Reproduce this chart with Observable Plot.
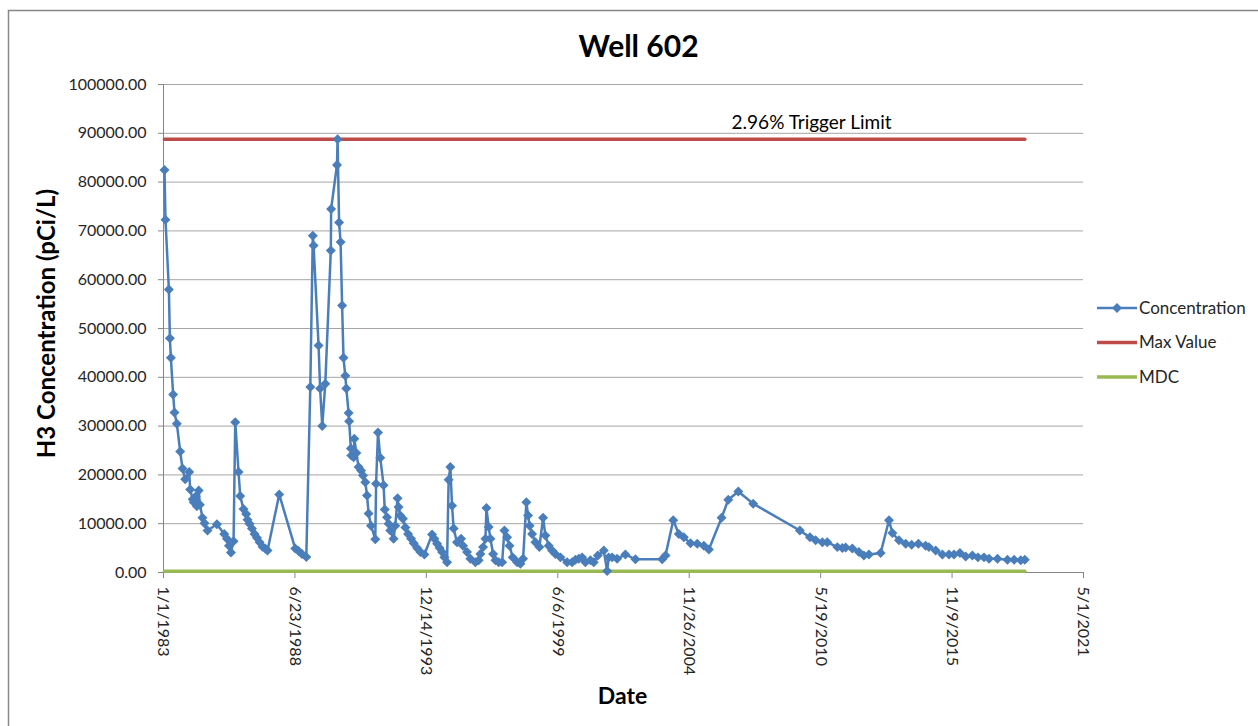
<!DOCTYPE html>
<html><head><meta charset="utf-8">
<script src="https://cdn.jsdelivr.net/npm/d3@7"></script>
<script src="https://cdn.jsdelivr.net/npm/@observablehq/plot@0.6"></script>
<style>
html,body{margin:0;padding:0;background:#fff;overflow:hidden;}
#chart{position:relative;width:1258px;height:726px;}
</style></head><body><div id="chart"></div>
<script>
const sampleDates = ["1983-01-16","1983-01-31","1983-03-24","1983-04-08","1983-04-23","1983-05-28","1983-06-17","1983-07-23","1983-09-12","1983-10-17","1983-11-27","1984-01-27","1984-02-11","1984-03-20","1984-04-05","1984-05-05","1984-05-23","1984-06-20","1984-07-08","1984-08-16","1984-09-16","1984-11-01","1985-03-24","1985-07-13","1985-08-23","1985-09-23","1985-10-23","1985-12-02","1985-12-28","1986-02-16","1986-03-13","1986-05-02","1986-06-12","1986-07-02","1986-08-02","1986-09-08","1986-10-17","1986-11-23","1987-01-02","1987-02-16","1987-03-29","1987-05-03","1987-10-28","1988-06-28","1988-08-17","1988-10-08","1988-12-13","1989-02-12","1989-03-22","1989-04-03","1989-06-18","1989-07-11","1989-08-13","1989-09-28","1989-12-21","1989-12-26","1990-03-25","1990-04-03","1990-04-26","1990-05-19","1990-06-11","1990-07-02","1990-07-30","1990-08-14","1990-09-18","1990-09-26","1990-10-22","1990-10-29","1990-12-03","1990-12-14","1991-01-13","1991-02-17","1991-03-26","1991-04-25","1991-05-30","1991-06-25","1991-07-19","1991-08-25","1991-10-29","1991-11-10","1991-12-09","1992-01-13","1992-03-03","1992-03-21","1992-04-24","1992-05-18","1992-06-13","1992-08-02","1992-08-28","1992-10-02","1992-10-17","1992-11-12","1992-12-23","1993-01-29","1993-03-11","1993-04-26","1993-06-04","1993-07-26","1993-09-14","1993-11-14","1994-03-11","1994-04-15","1994-05-26","1994-07-04","1994-08-10","1994-09-14","1994-10-25","1994-11-18","1994-12-14","1995-01-09","1995-02-02","1995-03-25","1995-05-26","1995-06-25","1995-08-25","1995-10-15","1995-12-30","1996-02-18","1996-03-15","1996-04-25","1996-05-31","1996-06-15","1996-07-20","1996-08-15","1996-09-25","1996-10-30","1996-12-19","1997-02-09","1997-03-16","1997-04-26","1997-06-01","1997-07-20","1997-09-25","1997-11-14","1997-12-25","1998-02-13","1998-03-11","1998-04-04","1998-05-11","1998-06-30","1998-08-30","1998-10-25","1998-11-29","1999-01-19","1999-03-11","1999-04-30","1999-07-16","1999-10-26","2000-01-10","2000-03-01","2000-04-20","2000-06-10","2000-07-30","2000-10-15","2000-12-04","2001-02-04","2001-05-06","2001-06-26","2001-07-20","2001-09-10","2001-11-25","2002-03-31","2002-08-31","2003-10-12","2003-12-01","2004-03-28","2004-06-21","2004-09-05","2004-12-16","2005-03-28","2005-07-06","2005-09-21","2006-04-02","2006-07-13","2006-12-13","2007-07-28","2009-07-07","2009-12-07","2010-03-04","2010-06-14","2010-08-28","2011-01-28","2011-04-14","2011-06-03","2011-09-13","2011-12-22","2012-03-07","2012-05-23","2012-11-17","2013-03-24","2013-05-15","2013-08-23","2013-12-03","2014-03-04","2014-06-14","2014-10-03","2014-11-22","2015-03-05","2015-06-15","2015-09-23","2015-12-08","2016-03-08","2016-06-03","2016-09-13","2016-12-07","2017-03-09","2017-05-25","2017-09-30","2018-03-01","2018-06-10","2018-09-20","2018-11-20"];
const concentration = [82500,72300,58000,48000,44000,36500,32800,30500,24800,21300,19100,20600,17000,15000,14400,15600,13600,16800,13900,11200,10100,8600,9900,7900,6900,5500,4100,6400,30800,20600,15700,13000,12000,10800,10000,9000,7900,7100,6200,5300,4900,4500,16000,4900,4400,3800,3200,38000,69000,67000,46500,37700,30000,38700,66000,74500,83500,88800,71700,67700,54700,44000,40300,37700,32700,31000,25400,24000,23600,27400,24500,21600,20900,19900,18500,15800,12100,9600,6800,18200,28700,23500,17900,12900,11300,10000,8600,6900,9600,15200,13400,11700,11000,9200,7900,6900,6000,5000,4200,3700,7800,6900,5900,5000,4200,3100,2100,19000,21600,13700,9000,6200,6900,5500,4200,2800,2100,2500,3800,5200,6900,13200,9300,6900,3800,2500,2100,2100,8600,7200,5500,3100,2100,1800,2800,14400,11700,9600,7900,6200,5200,11200,7600,5500,4500,3800,3100,2100,2100,2600,2800,3100,2100,2500,2100,3500,4500,300,3100,3100,2800,3700,2700,2700,3500,10700,7900,7200,6000,5900,5500,4700,11200,14900,16600,14100,8600,7200,6600,6200,6200,5200,5000,5100,4900,4200,3500,3700,4000,10700,8100,6600,5900,5700,5900,5500,5200,4500,3700,3700,3700,4000,3300,3500,3100,3100,2800,2800,2600,2600,2500,2600];
const maxValue = 88800;
const mdcValue = 250;
const yTicks = [0,10000,20000,30000,40000,50000,60000,70000,80000,90000,100000];
const xTickDates = ["1983-01-01","1988-06-23","1993-12-14","1999-06-06","2004-11-26","2010-05-19","2015-11-09","2021-05-01"];
const xTickLabels = ["1/1/1983","6/23/1988","12/14/1993","6/6/1999","11/26/2004","5/19/2010","11/9/2015","5/1/2021"];
const seriesNames = ["Concentration","Max Value","MDC"];
const seriesColors = ["#4a7ebb","#be4b48","#98b954"];
const triggerLabel = "2.96% Trigger Limit";
const triggerLabelDate = "2010-01-01";
const chartTitle = "Well 602";
const yTitle = "H3 Concentration (pCi/L)";
const xTitle = "Date";

const parse = d3.utcParse("%Y-%m-%d");
const conc = sampleDates.map((d, i) => ({date: parse(d), value: concentration[i]}));
const first = conc[0].date, last = conc[conc.length - 1].date;
const maxRows = [{date: first, value: maxValue}, {date: last, value: maxValue}];
const mdcRows = [{date: first, value: mdcValue}, {date: last, value: mdcValue}];
const ticks = xTickDates.map((d, i) => ({date: parse(d), label: xTickLabels[i]}));
const font = "Lato, 'Open Sans', sans-serif";
const axisGray = "#868686";
const textCol = "#262626";

const M = {left: 163, right: 175, top: 84, bottom: 154};
const chart = Plot.plot({
  width: 1258, height: 726,
  marginLeft: M.left, marginRight: M.right, marginTop: M.top, marginBottom: M.bottom,
  style: {fontFamily: font, fontSize: "16px", background: "transparent", color: textCol, overflow: "visible"},
  x: {type: "utc", domain: [ticks[0].date, ticks[ticks.length - 1].date]},
  y: {domain: [0, 100000]},
  marks: [
    Plot.gridY(yTicks, {stroke: "#a6a6a6", strokeOpacity: 1, strokeWidth: 1}),
    Plot.axisY(yTicks, {tickFormat: d3.format(".2f"), tickSize: 5, tickPadding: 12, stroke: axisGray, fill: textCol, label: null, fontSize: 16}),
    Plot.ruleX([ticks[0].date], {stroke: axisGray}),
    Plot.ruleY([0], {stroke: axisGray}),
    Plot.axisX(ticks.map(t => t.date), {tickSize: 6, tickFormat: () => "", stroke: axisGray, label: null}),
    Plot.text(ticks, {x: "date", text: "label", frameAnchor: "bottom", rotate: 90, textAnchor: "start", lineAnchor: "middle", dy: 14, fill: textCol, fontSize: 16}),
    Plot.line(maxRows, {x: "date", y: "value", stroke: seriesColors[1], strokeWidth: 3.5}),
    Plot.line(mdcRows, {x: "date", y: "value", stroke: seriesColors[2], strokeWidth: 3.5}),
    Plot.line(conc, {x: "date", y: "value", stroke: seriesColors[0], strokeWidth: 2.5}),
    Plot.dot(conc, {x: "date", y: "value", symbol: "diamond2", r: 4.5, fill: seriesColors[0], stroke: "none"}),
    Plot.text([{date: parse(triggerLabelDate), value: maxValue, label: triggerLabel}], {x: "date", y: "value", text: "label", dy: -16, fontSize: 19, fill: "#000"}),
    Plot.text([chartTitle], {frameAnchor: "top-left", textAnchor: "middle", lineAnchor: "middle", dx: 638 - M.left, dy: 47 - M.top, fontSize: 30, fontWeight: "bold", fill: "#000"}),
    Plot.text([yTitle], {frameAnchor: "top-left", textAnchor: "middle", lineAnchor: "middle", dx: 47 - M.left, dy: 323 - M.top, rotate: -90, fontSize: 24, fontWeight: "bold", fill: "#000"}),
    Plot.text([xTitle], {frameAnchor: "top-left", textAnchor: "middle", lineAnchor: "middle", dx: 622 - M.left, dy: 696 - M.top, fontSize: 23, fontWeight: "bold", fill: "#000"})
  ]
});

const svg = d3.select(chart);
svg.insert("rect", ":first-child")
  .attr("x", 8.5).attr("y", 10.5).attr("width", 1400).attr("height", 900)
  .attr("fill", "#fff").attr("stroke", "#878787").attr("stroke-width", 1.5);

const legendY = [308, 342.5, 377];
const lg = svg.append("g").attr("font-family", font).attr("font-size", 17).attr("text-anchor", "start");
seriesNames.forEach((name, i) => {
  const y = legendY[i];
  lg.append("line").attr("x1", 1097).attr("x2", 1137).attr("y1", y).attr("y2", y)
    .attr("stroke", seriesColors[i]).attr("stroke-width", i === 0 ? 2.5 : 3.5);
  if (i === 0) {
    lg.append("path").attr("d", d3.symbol(d3.symbolDiamond2, Math.PI * 20)())
      .attr("transform", `translate(1117,${y})`).attr("fill", seriesColors[0]);
  }
  lg.append("text").attr("x", 1139).attr("y", y).attr("dy", "0.35em").attr("text-anchor", "start").attr("fill", textCol).text(name);
});

document.getElementById("chart").appendChild(chart);
</script>
</body></html>
